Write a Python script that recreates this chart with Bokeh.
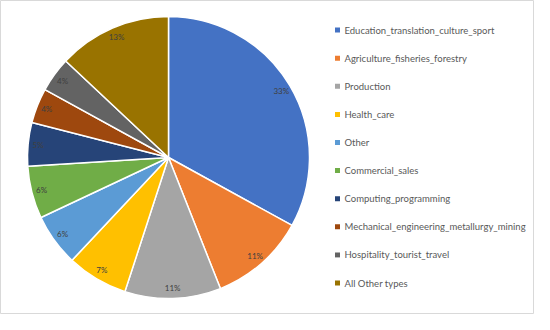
import math
from bokeh.plotting import figure
from bokeh.models import ColumnDataSource, Range1d
from bokeh.core.properties import value
from bokeh.embed import file_html
from bokeh.resources import INLINE

categories = [
    "Education_translation_culture_sport",
    "Agriculture_fisheries_forestry",
    "Production",
    "Health_care",
    "Other",
    "Commercial_sales",
    "Computing_programming",
    "Mechanical_engineering_metallurgy_mining",
    "Hospitality_tourist_travel",
    "All Other types",
]
shares = [33, 11, 11, 7, 6, 6, 5, 4, 4, 13]
colors = ["#4472C4", "#ED7D31", "#A5A5A5", "#FFC000", "#5B9BD5",
          "#70AD47", "#264478", "#9E480E", "#636363", "#997300"]

W, H = 534, 314
cx, cy, R = 168, 157, 141
label_r = 131

total = float(sum(shares))
starts, ends, lx, ly, labels = [], [], [], [], []
cum = 0.0
for s in shares:
    a0 = cum / total
    cum += s
    a1 = cum / total
    starts.append(math.pi / 2 - a1 * 2 * math.pi)
    ends.append(math.pi / 2 - a0 * 2 * math.pi)
    mid = math.pi / 2 - (a0 + a1) * math.pi
    lx.append(cx + label_r * math.cos(mid))
    ly.append(cy + label_r * math.sin(mid))
    labels.append(f"{s}%")

p = figure(width=W, height=H, output_backend="svg", toolbar_location=None,
           x_range=Range1d(0, W), y_range=Range1d(0, H), min_border=0)
p.axis.visible = False
p.grid.visible = False
p.outline_line_color = "#D9D9D9"
p.outline_line_width = 1
p.background_fill_color = "white"

src = ColumnDataSource(dict(start=starts, end=ends, color=colors))
p.wedge(x=cx, y=cy, radius=R, start_angle="start", end_angle="end",
        fill_color="color", line_color="white", line_width=1.5, source=src)

p.text(x=lx, y=ly, text=labels, text_font=value("Lato"), text_font_size="8px",
       text_color="#404040", text_align="center", text_baseline="middle")

# legend
leg_x = 337
step = 28.1
ys = [H - 29.6 - i * step for i in range(len(categories))]
p.rect(x=[leg_x] * len(categories), y=ys, width=5, height=5,
       fill_color=colors, line_color=None)
p.text(x=[leg_x + 7] * len(categories), y=ys, text=categories,
       text_font=value("Lato"), text_font_size="9.5px", text_color="#595959",
       text_align="left", text_baseline="middle")

open("out.html", "w").write(file_html(p, INLINE))
